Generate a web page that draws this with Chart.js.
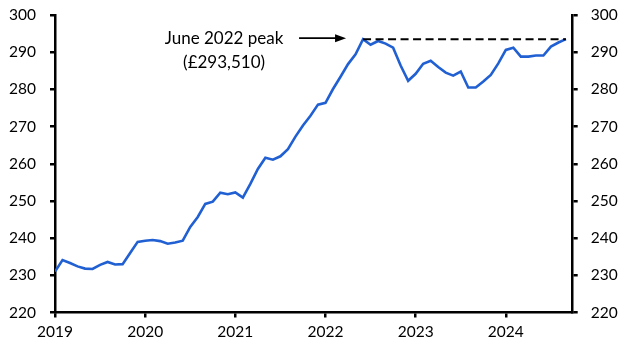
<!DOCTYPE html>
<html>
<head>
<meta charset="utf-8">
<script src="https://cdn.jsdelivr.net/npm/chart.js@4.4.1/dist/chart.umd.min.js"></script>
<style>
  html, body { margin: 0; padding: 0; background: #fff; }
  #wrap { width: 632px; height: 359px; position: relative; }
</style>
</head>
<body>
<div id="wrap"><canvas id="c" width="632" height="359"></canvas></div>
<script>
// Monthly house prices (£000s), Jan 2019 onward
const startYear = 2019;
const priceValues = [
  231.0, 234.1, 233.3, 232.4, 231.8, 231.7, 232.8, 233.6, 232.9, 233.0, 236.0, 239.0,
  239.3, 239.5, 239.2, 238.5, 238.8, 239.3, 243.0, 245.7, 249.2, 249.8, 252.2, 251.8,
  252.3, 250.9, 254.6, 258.6, 261.6, 261.1, 262.0, 263.9, 267.3, 270.3, 272.9, 275.9,
  276.4, 280.1, 283.4, 286.8, 289.4, 293.51, 292.0, 293.0, 292.3, 291.2, 286.4, 282.3,
  284.2, 286.9, 287.7, 286.0, 284.5, 283.7, 284.8, 280.5, 280.5, 282.1, 283.9, 287.0,
  290.6, 291.2, 288.8, 288.8, 289.1, 289.1, 291.5, 292.6, 293.5
];
const yearLabels = ['2019', '2020', '2021', '2022', '2023', '2024'];
const yTicks = [220, 230, 240, 250, 260, 270, 280, 290, 300];
const peakIndex = 41;          // June 2022
const peakValue = 293.51;
const annotationLines = ['June 2022 peak', '(£293,510)'];

const FONT = 'Lato';
const points = priceValues.map((v, i) => ({ x: i, y: v }));

const annotationPlugin = {
  id: 'peakNote',
  afterDatasetsDraw(chart) {
    const ctx = chart.ctx;
    const xs = chart.scales.x, ys = chart.scales.y;
    const py = ys.getPixelForValue(peakValue);
    const x0 = xs.getPixelForValue(peakIndex);
    const x1 = xs.getPixelForValue(priceValues.length - 1);
    ctx.save();
    // dashed line
    ctx.strokeStyle = '#000';
    ctx.lineWidth = 2;
    ctx.setLineDash([8, 4.5]);
    ctx.beginPath();
    ctx.moveTo(x0, py);
    ctx.lineTo(x1, py);
    ctx.stroke();
    ctx.setLineDash([]);
    // arrow
    const ay = py - 1;
    const ax0 = x0 - 64, ax1 = x0 - 17;
    ctx.lineWidth = 1.8;
    ctx.beginPath();
    ctx.moveTo(ax0, ay);
    ctx.lineTo(ax1 - 8, ay);
    ctx.stroke();
    ctx.fillStyle = '#000';
    ctx.beginPath();
    ctx.moveTo(ax1, ay);
    ctx.lineTo(ax1 - 11, ay - 4);
    ctx.lineTo(ax1 - 11, ay + 4);
    ctx.closePath();
    ctx.fill();
    // text
    ctx.font = '17px ' + FONT;
    ctx.textAlign = 'center';
    ctx.textBaseline = 'middle';
    const tx = x0 - 139;
    ctx.fillText(annotationLines[0], tx, py - 1);
    ctx.fillText(annotationLines[1], tx, py + 23);
    ctx.restore();
  }
};

const axisCommon = {
  grid: { display: true, drawOnChartArea: false, drawTicks: true, tickLength: 5, color: '#000', lineWidth: 2.5 },
  border: { display: true, color: '#000', width: 2.5 },
};

function fixVertical(width) {
  return function (scale) {
    scale.width = width;
    scale.paddingTop = 0;
    scale.paddingBottom = 0;
  };
}

new Chart(document.getElementById('c'), {
  type: 'line',
  data: {
    datasets: [{
      data: points,
      borderColor: '#2160d2',
      borderWidth: 2.6,
      pointRadius: 0,
      tension: 0,
      fill: false,
      yAxisID: 'y'
    }]
  },
  options: {
    responsive: false,
    animation: false,
    devicePixelRatio: 1,
    layout: { padding: { top: 15, left: 0, right: 0, bottom: 0 } },
    plugins: { legend: { display: false }, tooltip: { enabled: false } },
    scales: {
      x: {
        type: 'linear',
        min: 0,
        max: 68.9,
        ...axisCommon,
        ticks: {
          color: '#000',
          font: { family: FONT, size: 15.5 },
          padding: 5,
          maxRotation: 0,
          autoSkip: false,
          callback: (v) => yearLabels[Math.round(v / 12)]
        },
        afterBuildTicks(scale) {
          scale.ticks = yearLabels.map((_, k) => ({ value: k * 12 }));
        },
        afterFit(scale) { scale.height = 46.5; scale.paddingLeft = 0; scale.paddingRight = 0; }
      },
      y: {
        position: 'left',
        min: 220, max: 300,
        ...axisCommon,
        ticks: {
          color: '#000',
          font: { family: FONT, size: 15.5 },
          padding: 14,
          stepSize: 10
        },
        afterBuildTicks(scale) { scale.ticks = yTicks.map(v => ({ value: v })); },
        afterFit: fixVertical(55)
      },
      y2: {
        position: 'right',
        display: true,
        min: 220, max: 300,
        ...axisCommon,
        ticks: {
          color: '#000',
          font: { family: FONT, size: 15.5 },
          padding: 13,
          stepSize: 10
        },
        afterBuildTicks(scale) { scale.ticks = yTicks.map(v => ({ value: v })); },
        afterFit: fixVertical(59.3)
      }
    }
  },
  plugins: [annotationPlugin]
});
</script>
</body>
</html>
